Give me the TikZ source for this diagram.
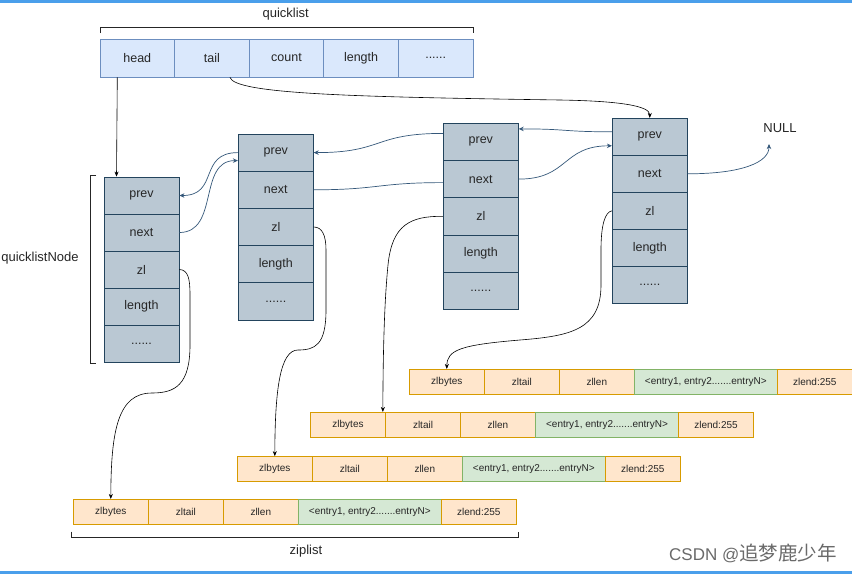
\documentclass[tikz,border=0pt]{standalone}
\usepackage{fontspec}
\setmainfont{Liberation Sans}
\newfontfamily\cjkfont{Noto Sans CJK SC}
\usetikzlibrary{arrows.meta,calc}
\definecolor{qfill}{HTML}{DAE8FC}
\definecolor{qdraw}{HTML}{6C8EBF}
\definecolor{nfill}{HTML}{BAC8D3}
\definecolor{ndraw}{HTML}{23445D}
\definecolor{ofill}{HTML}{FFE6CC}
\definecolor{odraw}{HTML}{D79B00}
\definecolor{gfill}{HTML}{D5E8D4}
\definecolor{gdraw}{HTML}{82B366}
\definecolor{barblue}{HTML}{4A9FEB}
\definecolor{linkc}{HTML}{35587A}
\definecolor{txt}{HTML}{262626}
\definecolor{wm}{HTML}{6A6A6A}
\newcommand\listnode[4]{%
  \node[ncell, minimum height=#4pt] (#1prev) at (#2, {#3+#4*0.5}) {prev};
  \node[ncell, minimum height=#4pt] (#1next) at (#2, {#3+#4*1.5}) {next};
  \node[ncell, minimum height=#4pt] (#1zl)   at (#2, {#3+#4*2.5}) {zl};
  \node[ncell, minimum height=#4pt] (#1len)  at (#2, {#3+#4*3.5}) {length};
  \node[ncell, minimum height=#4pt] (#1dots) at (#2, {#3+#4*4.5}) {......};
}
\newcommand\ziprow[3]{%
  \node[zcell] (#1bytes) at ({#2+37.5}, #3) {zlbytes};
  \node[zcell] (#1tail)  at ({#2+112.5}, #3) {zltail};
  \node[zcell] (#1len)   at ({#2+187.5}, #3) {zllen};
  \node[zentry] (#1ent)  at ({#2+296.5}, #3) {<entry1, entry2.......entryN>};
  \node[zcell] (#1end)   at ({#2+405.5}, #3) {zlend:255};
}
\begin{document}
\begin{tikzpicture}[x=1pt,y=-1pt,
  qcell/.style={draw=qdraw, fill=qfill, line width=0.7pt, minimum width=74.6pt, minimum height=38pt, inner sep=0pt, font=\fontsize{12.5}{14}\selectfont, text=txt},
  ncell/.style={draw=ndraw, fill=nfill, line width=0.8pt, minimum width=75pt, inner sep=0pt, font=\fontsize{12.5}{14}\selectfont, text=txt},
  zcell/.style={draw=odraw, fill=ofill, line width=0.7pt, minimum width=75pt, minimum height=25pt, inner sep=0pt, font=\fontsize{10}{12}\selectfont, text=txt},
  zentry/.style={zcell, draw=gdraw, fill=gfill, minimum width=143pt},
  plink/.style={draw=linkc, line width=0.7pt, -{Stealth[length=5pt,width=4.5pt]}},
  plain/.style={draw=linkc, line width=0.7pt},
  zlink/.style={draw=black, line width=0.6pt, -{Stealth[length=5pt,width=4pt]}},
  brk/.style={draw=txt, line width=0.8pt},
  lbl/.style={font=\fontsize{13}{15}\selectfont, text=txt}]
\useasboundingbox (0,0) rectangle (852,574);
\fill[white] (0,0) rectangle (852,574);
\fill[barblue] (0,0) rectangle (852,2.6);
\fill[barblue] (0,571.4) rectangle (852,574);

% quicklist header
\node[lbl] (qlabel) at (285.7,14.5) {quicklist};
\node[qcell] (qhead)  at (137.3,58) {head};
\node[qcell] (qtail)  at (211.9,58) {tail};
\node[qcell] (qcount) at (286.5,58) {count};
\node[qcell] (qlen)   at (361.1,58) {length};
\node[qcell] (qdots)  at (435.7,58) {......};
\draw[brk] (100,33) -- (100,27.5) -- (473.3,27.5) -- (473.3,33);

% quicklist nodes
\listnode{na}{141.5}{177}{37}
\listnode{nb}{275.8}{134}{37.2}
\listnode{nc}{480.8}{123.3}{37.2}
\listnode{nd}{649.8}{118.3}{37}
\draw[brk] (96,175.7) -- (90,175.7) -- (90,363.3) -- (96,363.3);
\node[lbl] (qnlabel) at (40,258) {quicklistNode};
\node[lbl] (null) at (780,128) {NULL};

% ziplists
\ziprow{za}{409.3}{381.8}
\ziprow{zb}{310.5}{424.8}
\ziprow{zc}{237.3}{469}
\ziprow{zd}{73.3}{511.8}
\draw[brk] (71.7,531.5) -- (71.7,537.3) -- (518.3,537.3) -- (518.3,531.5);
\node[lbl] (zlabel) at (306,551) {ziplist};

% head / tail pointers
\draw[zlink] ($(qhead.south)+(-20,0)$) -- ($(naprev.north)+(-25,0)$);
\draw[zlink] ($(qtail.south)+(18,0)$) .. controls +(5,17) and +(-200,-3) .. (560,100)
  .. controls +(60,1) and +(0,-12) .. (ndprev.north);

% prev / next links
\draw[plink] (nanext.east) .. controls +(40,0) and +(-40,0) .. ($(nbprev.west)+(0,8)$);
\draw[plink] (nbprev.west) .. controls +(-40,0) and +(40,0) .. (naprev.east);
\draw[plink] ($(ncprev.west)+(0,-8.5)$) .. controls +(-70,0) and +(70,0) .. (nbprev.east);
\draw[plain] (nbnext.east) .. controls +(65,0) and +(-65,0) .. ($(ncnext.west)+(0,3.5)$);
\draw[plink] ($(ndprev.west)+(0,-5)$) .. controls +(-50,0) and +(50,0) .. ($(ncprev.east)+(0,-13)$);
\draw[plink] (ncnext.east) .. controls +(50,0) and +(-50,0) .. ($(ndprev.west)+(0,9)$);
\draw[plink] (ndnext.east) .. controls +(55,0) and +(0,18) .. ($(null.south)+(-11,8)$);

% zl links
\draw[zlink] (nazl.east) .. controls (188,270) and (190,278) .. (190,295) -- (190,345)
  .. controls (190,385) and (175,393) .. (152,393)
  .. controls (118,393) and (111,430) .. (zdbytes.north);
\draw[zlink] (nbzl.east) .. controls (322,227) and (326,235) .. (326,250) -- (326,310)
  .. controls (326,345) and (315,350) .. (298,350)
  .. controls (280,350) and (275,390) .. (zcbytes.north);
\draw[zlink] (nczl.west) .. controls (410,216) and (392,225) .. (388,265)
  .. controls (384,305) and (383,360) .. ($(zbbytes.north east)+(-3,0)$);
\draw[zlink] (ndzl.west) .. controls (605,212) and (601,225) .. (601,250) -- (601,285)
  .. controls (601,330) and (570,336) .. (520,340)
  .. controls (460,345) and (447,350) .. (zabytes.north);

% watermark
\node[anchor=east, text=wm, font=\fontsize{17}{19}\selectfont, inner sep=0pt] (wmark) at (837,553) {CSDN @{\cjkfont\fontsize{19.5}{21}\selectfont 追梦鹿少年}};
\end{tikzpicture}
\end{document}
